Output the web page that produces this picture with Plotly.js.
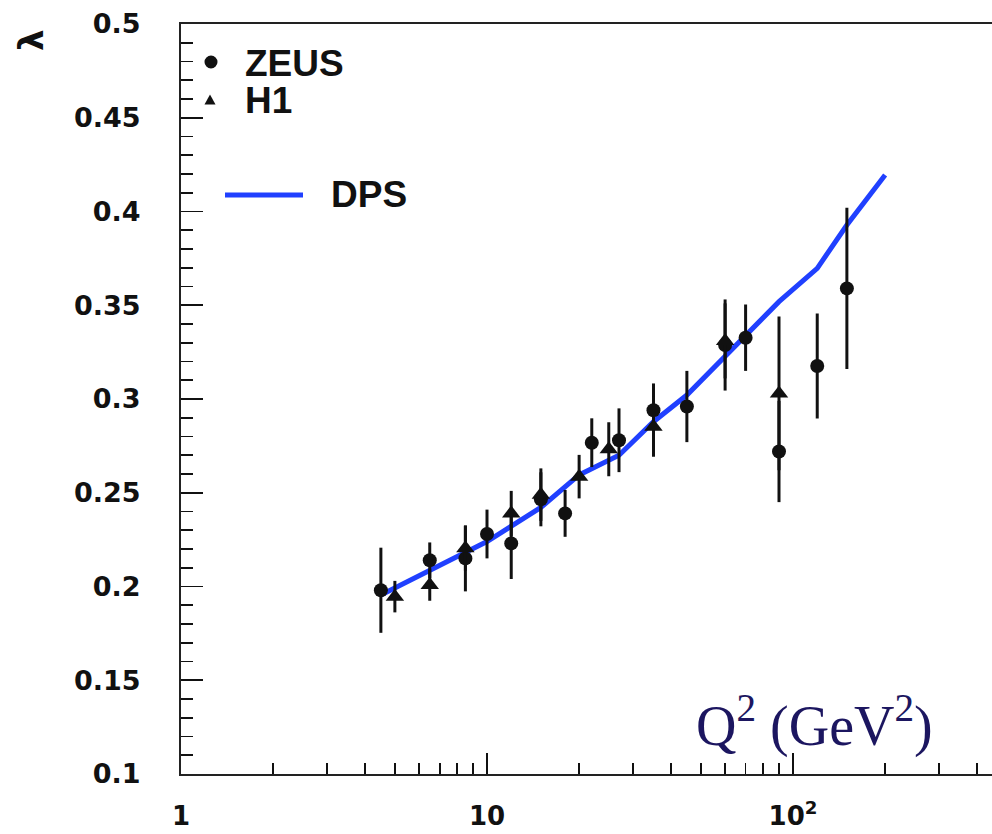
<!DOCTYPE html>
<html>
<head>
<meta charset="utf-8">
<script src="https://cdn.plot.ly/plotly-3.0.1.min.js"></script>
<style>
  html, body { margin: 0; padding: 0; background: #fff; overflow: hidden; }
  #chart { width: 992px; height: 834px; }
</style>
</head>
<body>
<div id="chart"></div>
<script>
// Slope lambda of F2 versus Q^2: ZEUS and H1 measurements with the DPS curve
const zeusQ2  = [4.5, 6.5, 8.5, 10, 12, 15, 18, 22, 27, 35, 45, 60, 70, 90, 120, 150];
const zeusLam = [0.198, 0.214, 0.215, 0.228, 0.223, 0.2465, 0.239, 0.2767, 0.278, 0.294, 0.296, 0.3288, 0.3327, 0.272, 0.3176, 0.359];
const zeusErr = [0.0227, 0.0095, 0.0176, 0.013, 0.019, 0.0144, 0.0125, 0.013, 0.017, 0.0143, 0.019, 0.0243, 0.0177, 0.027, 0.028, 0.043];

const h1Q2  = [5, 6.5, 8.5, 12, 15, 20, 25, 35, 60, 90];
const h1Lam = [0.1946, 0.2008, 0.2204, 0.239, 0.249, 0.2586, 0.2732, 0.2852, 0.331, 0.303];
const h1Err = [0.0084, 0.0084, 0.012, 0.012, 0.014, 0.0116, 0.0144, 0.016, 0.02, 0.041];

const dpsQ2  = [4.5, 6.5, 10, 15, 20, 27, 35, 45, 60, 90, 120, 150, 200];
const dpsLam = [0.1955, 0.2086, 0.224, 0.2422, 0.2595, 0.270, 0.2879, 0.3021, 0.3226, 0.3519, 0.3697, 0.3928, 0.4195];

const yTickVals = [0.1, 0.15, 0.2, 0.25, 0.3, 0.35, 0.4, 0.45, 0.5];
const yTickText = ['0.1', '0.15', '0.2', '0.25', '0.3', '0.35', '0.4', '0.45', '0.5'];
const xTickVals = [1, 10, 100];
const xTickText = ['1', '10', '10<sup>2</sup>'];

// minor decade ticks 2..9 x 10^k
const xMinor = [];
for (let k = 0; k < 3; k++) {
  for (let m = 2; m <= 9; m++) xMinor.push(m * Math.pow(10, k));
}

const ink = '#111';
const yTickFont = { family: 'DejaVu Sans', size: 27, color: ink, weight: 'bold' };
const xTickFont = { family: 'DejaVu Sans', size: 26, color: ink, weight: 'bold' };
const legFont = { family: 'Liberation Sans', size: 37, color: ink, weight: 'bold' };

const traces = [
  {
    x: dpsQ2, y: dpsLam, type: 'scatter', mode: 'lines',
    line: { color: 'rgb(32,64,255)', width: 5 },
    hoverinfo: 'skip', showlegend: false
  },
  {
    x: zeusQ2, y: zeusLam, type: 'scatter', mode: 'markers', name: 'ZEUS',
    marker: { symbol: 'circle', size: 14, color: ink },
    error_y: { type: 'data', array: zeusErr, visible: true, color: ink, thickness: 3, width: 0 },
    showlegend: false
  },
  {
    x: h1Q2, y: h1Lam, type: 'scatter', mode: 'markers', name: 'H1',
    marker: { symbol: 'triangle-up', size: 16, color: ink },
    error_y: { type: 'data', array: h1Err, visible: true, color: ink, thickness: 3, width: 0 },
    showlegend: false
  }
];

// plot-area helpers for placing legend pieces in paper units
const PL = 181, PW = 811, PT = 24, PH = 750;
const px = v => (v - PL) / PW;
const py = v => (PT + PH - v) / PH;

const layout = {
  width: 992, height: 834,
  margin: { l: PL, r: 0, t: PT, b: 834 - PT - PH },
  paper_bgcolor: '#fff', plot_bgcolor: '#fff',
  showlegend: false,
  xaxis: {
    type: 'log', range: [0, 811 / 306],
    showline: true, linecolor: '#222', linewidth: 2, mirror: true,
    showgrid: false, zeroline: false,
    ticks: 'inside', ticklen: 21, tickwidth: 1.8, tickcolor: ink,
    tickmode: 'array', tickvals: xTickVals, ticktext: xTickText,
    tickfont: xTickFont, ticklabelstandoff: 18,
    minor: { tickmode: 'array', tickvals: xMinor, ticks: 'inside', ticklen: 11, tickwidth: 1.8, tickcolor: ink, showgrid: false }
  },
  yaxis: {
    range: [0.1, 0.5],
    showline: true, linecolor: '#222', linewidth: 2, mirror: false,
    showgrid: false, zeroline: false,
    ticks: 'inside', ticklen: 22, tickwidth: 1.8, tickcolor: ink,
    tickmode: 'array', tickvals: yTickVals, ticktext: yTickText,
    tickfont: yTickFont, ticklabelstandoff: 33,
    minor: { dtick: 0.01, tick0: 0.1, ticks: 'inside', ticklen: 12, tickwidth: 1.8, tickcolor: ink, showgrid: false }
  },
  shapes: [
    { type: 'circle', xref: 'paper', yref: 'paper', xsizemode: 'pixel', ysizemode: 'pixel',
      xanchor: px(211), yanchor: py(62), x0: -6.5, x1: 6.5, y0: -6.5, y1: 6.5,
      fillcolor: ink, line: { width: 0 } },
    { type: 'path', xref: 'paper', yref: 'paper', xsizemode: 'pixel', ysizemode: 'pixel',
      xanchor: px(210), yanchor: py(100), path: 'M -5.5 -4.5 L 5.5 -4.5 L 0 5.5 Z',
      fillcolor: ink, line: { width: 0 } },
    { type: 'line', xref: 'paper', yref: 'paper', x0: px(225), x1: px(303), y0: py(195), y1: py(195),
      line: { color: 'rgb(32,64,255)', width: 5 } }
  ],
  annotations: [
    { xref: 'paper', yref: 'paper', x: px(243), y: py(63), xanchor: 'left', yanchor: 'middle',
      text: 'ZEUS', showarrow: false, font: legFont },
    { xref: 'paper', yref: 'paper', x: px(243), y: py(100), xanchor: 'left', yanchor: 'middle',
      text: 'H1', showarrow: false, font: legFont },
    { xref: 'paper', yref: 'paper', x: px(329), y: py(195), xanchor: 'left', yanchor: 'middle',
      text: 'DPS', showarrow: false, font: legFont },
    { xref: 'paper', yref: 'paper', x: px(694), y: py(722), xanchor: 'left', yanchor: 'middle',
      text: 'Q<sup>2</sup> (GeV<sup>2</sup>)', showarrow: false,
      font: { family: 'Liberation Serif', size: 56, color: 'rgb(28,22,96)' } },
    { xref: 'paper', yref: 'paper', x: px(31), y: py(40), xanchor: 'center', yanchor: 'middle',
      text: 'λ', textangle: -90, showarrow: false,
      font: { family: 'DejaVu Sans', size: 34, color: ink, weight: 'bold' } }
  ]
};

Plotly.newPlot('chart', traces, layout, { displayModeBar: false, staticPlot: true });
</script>
</body>
</html>
